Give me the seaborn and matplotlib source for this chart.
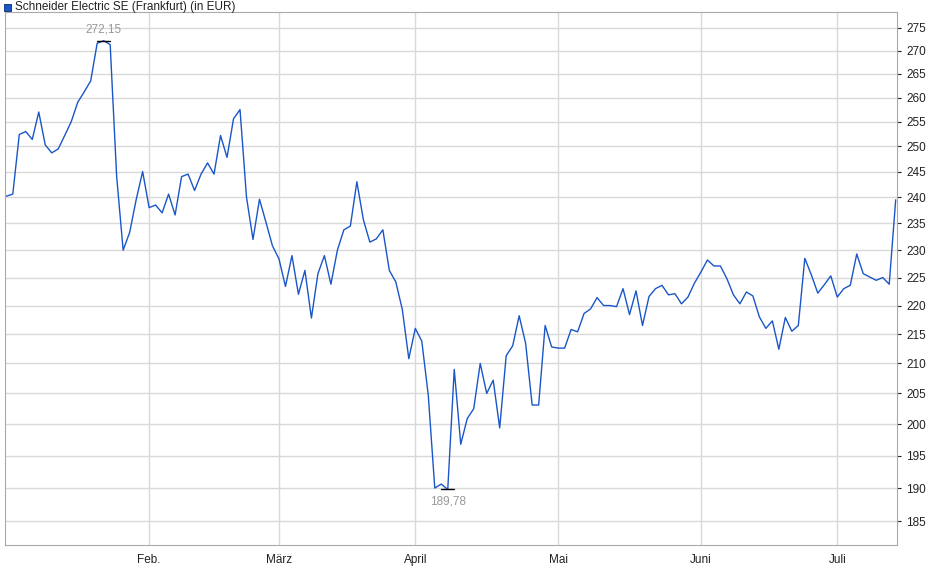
import numpy as np
import pandas as pd
import seaborn as sns
import matplotlib.pyplot as plt
from matplotlib.ticker import FixedLocator, NullLocator

# Closing prices (EUR)
prices = [240.2, 240.6, 252.4, 253.0, 251.4, 257.0, 250.3, 248.7, 249.5, 252.2,
          255.0, 259.0, 261.2, 263.5, 271.6, 272.15, 271.3, 244.0, 230.0, 233.3,
          239.5, 245.0, 238.0, 238.5, 237.0, 240.6, 236.6, 244.0, 244.5, 241.3,
          244.5, 246.7, 244.5, 252.2, 247.8, 255.6, 257.5, 240.0, 232.0, 239.6,
          235.2, 230.8, 228.4, 223.4, 229.0, 222.0,
          226.3, 217.8, 225.7, 229.0, 223.8, 230.0, 233.8, 234.5, 243.0, 235.7,
          231.5, 232.1, 233.8, 226.3, 224.2, 219.3, 210.8, 216.0, 213.8, 204.7,
          190.0, 190.6, 189.78, 209.0, 196.8, 200.9, 202.5, 210.0, 205.0, 207.2,
          199.4, 211.3, 213.0, 218.2, 213.4, 203.1, 203.1, 216.5, 212.8, 212.6,
          212.6, 215.8, 215.4,
          218.6, 219.4, 221.4, 220.0, 220.0, 219.8, 223.0, 218.4, 222.6, 216.5,
          221.6, 223.0, 223.6, 221.9, 222.1, 220.3, 221.5, 224.0, 226.0, 228.2,
          227.1, 227.1, 224.8, 221.9, 220.3, 222.4, 221.7, 218.0, 216.0, 217.3,
          212.4, 217.9, 215.5, 216.5, 228.5, 225.5, 222.2, 223.7, 225.3, 221.5,
          223.0, 223.6, 229.3, 225.7, 225.1, 224.5, 225.0, 223.8, 239.5]
dates = pd.bdate_range("2025-01-02", periods=len(prices))
month_labels = ["Feb.", "März", "April", "Mai", "Juni", "Juli"]
y_ticks = list(range(185, 280, 5))

# trading days are drawn evenly spaced: x = day index
df = pd.DataFrame({"idx": np.arange(len(prices)), "date": dates, "price": prices})
month_idx = [int(df.index[df["date"].dt.month == m][0]) for m in range(2, 8)]

sns.set_style("white")
plt.rcParams["font.family"] = ["Liberation Sans", "DejaVu Sans"]

fig = plt.figure(figsize=(9.4, 5.79), dpi=100)
ax = fig.add_axes([5 / 940, 34 / 579, 892 / 940, 533 / 579])
sns.lineplot(data=df, x="idx", y="price", ax=ax, color="#1a56c8", linewidth=1)

ax.set_yscale("log")
ax.set_ylim(181.5, 278.5)
ax.yaxis.set_major_locator(FixedLocator(y_ticks))
ax.yaxis.set_minor_locator(NullLocator())
ax.set_yticklabels([str(v) for v in y_ticks])
ax.yaxis.tick_right()
ax.set_xlim(-0.2, len(prices) - 0.8)
ax.set_xticks(month_idx)
ax.set_xticklabels(month_labels)
ax.tick_params(labelsize=8.5, colors="#222222", length=3, width=0.8)
ax.grid(True, color="#d9d9d9", linewidth=1)
ax.set_xlabel("")
ax.set_ylabel("")
for s in ax.spines.values():
    s.set_color("#aaaaaa")
    s.set_linewidth(0.8)

# max / min markers
imax = int(np.argmax(prices))
imin = int(np.argmin(prices))
for i, off, va in [(imax, 4, "bottom"), (imin, -4, "top")]:
    ax.plot([i - 1, i + 1], [prices[i], prices[i]], color="black", linewidth=1)
    ax.annotate(f"{prices[i]:.2f}".replace(".", ","), (i, prices[i]),
                xytext=(0, off), textcoords="offset points", ha="center", va=va,
                fontsize=8.5, color="#999999")

# title with legend square
fig.patches.append(plt.Rectangle((4 / 940, 1 - 11 / 579), 7 / 940, 7 / 579,
                                 transform=fig.transFigure, facecolor="#1a56c8",
                                 edgecolor="#0a2a6a", linewidth=0.6))
fig.text(15 / 940, 1 - 7 / 579, "Schneider Electric SE (Frankfurt) (in EUR)",
         fontsize=8.5, va="center", ha="left", color="#222222")

fig.savefig("out.png", dpi=100)
